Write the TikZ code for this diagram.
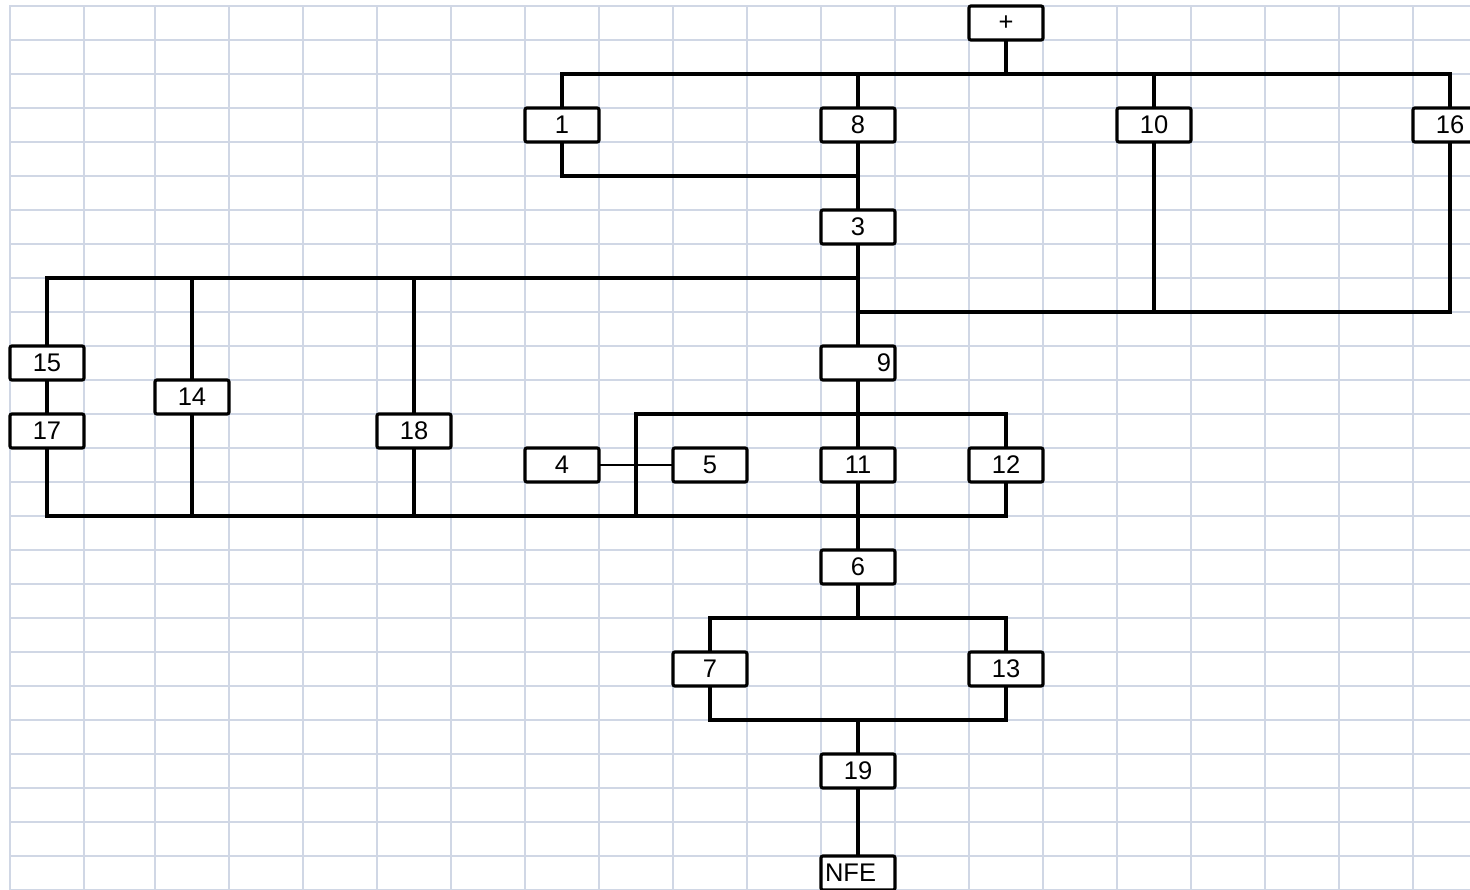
\documentclass[tikz,border=0pt]{standalone}
\usepackage{fontspec}
\setmainfont{Liberation Sans}
\usetikzlibrary{calc}
\definecolor{sheetgrid}{HTML}{D0D7E5}
\tikzset{
  cell/.style={rectangle, rounded corners=2pt, draw=black, line width=3.2pt, fill=white,
               minimum width=74pt, minimum height=34pt, inner sep=0pt, outer sep=0pt,
               font=\fontsize{25.5}{27}\selectfont},
  cellr/.style={cell, text width=66pt, align=right},
  celll/.style={cell, text width=66pt, align=left},
  wire/.style={line width=3.4pt, draw=black},
  wiret/.style={line width=2.4pt, draw=black},
  gridline/.style={line width=2pt, draw=sheetgrid, line cap=rect},
}

\begin{document}
\begin{tikzpicture}[x=1pt, y=-1pt]
    \useasboundingbox (0,0) rectangle (1470,890);
    \clip (0,0) rectangle (1470,890);
    % sheet grid
    \foreach \gx in {10,84,155,229,...,1413}
      \draw[gridline] (\gx,6) -- (\gx,890);
    \foreach \gy in {6,40,...,890}
      \draw[gridline] (10,\gy) -- (1470,\gy);

    % bus levels
    \coordinate (top bus) at (0,74);
    \coordinate (bus8) at (0,176);
    \coordinate (left bus) at (0,278);
    \coordinate (right bus) at (0,312);
    \coordinate (bus9) at (0,414);
    \coordinate (low bus) at (0,516);
    \coordinate (bus6) at (0,618);
    \coordinate (bus19) at (0,720);

    % top
    \node[cell] (plus) at (1006,23) {+};
    \foreach \n/\x in {1/562, 8/858, 10/1154, 16/1450}
      \node[cell] (n\n) at (\x,125) {\n};
    \node[cell] (n3) at (858,227) {3};
    \node[cellr] (n9) at (858,363) {9};

    % left branches
    \node[cell] (n15) at (47,363) {15};
    \node[cell] (n14) at (192,397) {14};
    \node[cell] (n17) at (47,431) {17};
    \node[cell] (n18) at (414,431) {18};

    % middle row
    \foreach \n/\x in {4/562, 5/710, 11/858, 12/1006}
      \node[cell] (n\n) at (\x,465) {\n};

    % bottom
    \node[cell] (n6) at (858,567) {6};
    \node[cell] (n7) at (710,669) {7};
    \node[cell] (n13) at (1006,669) {13};
    \node[cell] (n19) at (858,771) {19};
    \node[celll] (nfe) at (858,873) {NFE};

    % wires
    \draw[wire] (plus) -- (plus |- top bus);
    \draw[wire] (n1) -- (n1 |- top bus) -- (n16 |- top bus) -- (n16);
    \foreach \n in {8,10}
      \draw[wire] (n\n) -- (n\n |- top bus);
    \draw[wire] (n1) -- (n1 |- bus8) -- (n8 |- bus8);
    \draw[wire] (n8) -- (n3);
    \draw[wire] (n3) -- (n9);
    \draw[wire] (n15) -- (n15 |- left bus) -- (n3 |- left bus);
    \foreach \n in {14,18}
      \draw[wire] (n\n) -- (n\n |- left bus);
    \draw[wire] (n3 |- right bus) -- (n16 |- right bus) -- (n16);
    \draw[wire] (n10) -- (n10 |- right bus);
    \draw[wire] (n15) -- (n17);
    \draw[wire] (n17) -- (n17 |- low bus) -- (n12 |- low bus) -- (n12);
    \foreach \n in {14,18}
      \draw[wire] (n\n) -- (n\n |- low bus);
    \coordinate (tap) at ($(n4.east)!0.5!(n5.west)$);
    \draw[wire] (tap |- low bus) -- (tap |- bus9) -- (n12 |- bus9) -- (n12);
    \draw[wiret] (n4) -- (n5);
    \draw[wire] (n9) -- (n11);
    \draw[wire] (n11) -- (n6);
    \draw[wire] (n6) -- (n6 |- bus6);
    \draw[wire] (n7) -- (n7 |- bus6) -- (n13 |- bus6) -- (n13);
    \draw[wire] (n7) -- (n7 |- bus19) -- (n13 |- bus19) -- (n13);
    \draw[wire] (n19) -- (n19 |- bus19);
    \draw[wire] (n19) -- (nfe);
\end{tikzpicture}
\end{document}
